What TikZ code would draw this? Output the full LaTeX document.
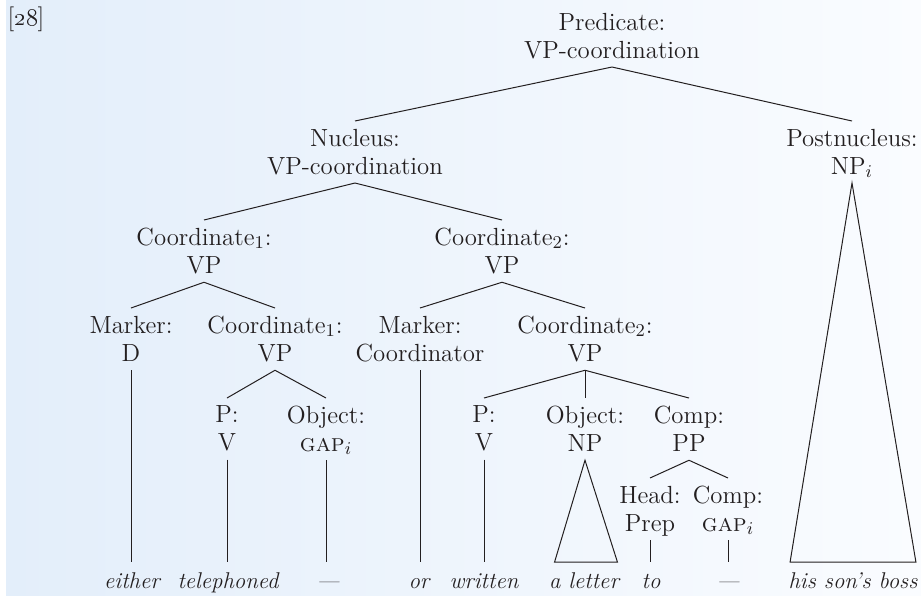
\documentclass[tikz,border=0pt]{standalone}
\usetikzlibrary{calc}
\definecolor{bgblue}{RGB}{227,238,250}
\definecolor{bgwhite}{RGB}{250,252,255}
\definecolor{ink}{RGB}{35,31,32}

\begin{document}
\begin{tikzpicture}[
    x=0.5pt, y=-0.5pt,
    lab/.style={anchor=north, yshift=9.8pt, inner sep=0pt, align=center,
                font=\fontsize{12.4}{14}\selectfont, text=ink,
                execute at begin node=\strut, execute at end node=\strut},
    word/.style={lab, font=\fontsize{11.4}{14}\selectfont\itshape},
    line width=0.5pt, draw=ink
  ]
  \useasboundingbox (0,0) rectangle (921,595);
  \fill[left color=bgblue, right color=bgwhite] (6,0) rectangle (921,595);

  \node[anchor=base west, inner sep=0pt, font=\fontsize{12.4}{14}\selectfont, text=ink]
    (num) at (7,25) {[\oldstylenums{28}]};

  % labels, placed at the baseline of their first line
  \node[lab] (pred) at (612,32)  {Predicate:\\VP-coordination};
  \node[lab] (nuc)  at (355,148) {Nucleus:\\VP-coordination};
  \node[lab] (post) at (852,148) {Postnucleus:\\NP$_i$};
  \node[lab] (c1)   at (204,247) {Coordinate$_1$:\\VP};
  \node[lab] (c2)   at (502,247) {Coordinate$_2$:\\VP};
  \node[lab] (mk1)  at (131,335) {Marker:\\D};
  \node[lab] (c1i)  at (275,335) {Coordinate$_1$:\\VP};
  \node[lab] (mk2)  at (420,335) {Marker:\\Coordinator};
  \node[lab] (c2i)  at (585,335) {Coordinate$_2$:\\VP};
  \node[lab] (p1)   at (227,425) {P:\\V};
  \node[lab] (ob1)  at (326,425) {Object:\\\textsc{gap}$_i$};
  \node[lab] (p2)   at (484,425) {P:\\V};
  \node[lab] (ob2)  at (585,425) {Object:\\NP};
  \node[lab] (cp)   at (689,425) {Comp:\\PP};
  \node[lab] (hd)   at (650,505) {Head:\\Prep};
  \node[lab] (cp2)  at (728,505) {Comp:\\\textsc{gap}$_i$};

  % the words
  \node[word] (w1) at (132,588) {either};
  \node[word] (w2) at (228,588) {telephoned};
  \node[word] (w3) at (328,588) {---};
  \node[word] (w4) at (419,588) {or};
  \node[word] (w5) at (484,588) {written};
  \node[word] (w6) at (584,588) {a letter};
  \node[word] (w7) at (651,588) {to};
  \node[word] (w8) at (728,588) {---};
  \node[word] (w9) at (853,588) {his son's boss};

  % branches
  \foreach \a/\b in {pred/nuc, pred/post, nuc/c1, nuc/c2, c1/mk1, c1/c1i,
                     c2/mk2, c2/c2i, c1i/p1, c1i/ob1, c2i/p2, c2i/ob2,
                     c2i/cp, cp/hd, cp/cp2}
    \draw (\a.south) -- ([yshift=3.7pt]\b.north);

  % down to the words
  \foreach \a/\b in {mk1/w1, p1/w2, ob1/w3, mk2/w4, p2/w5, hd/w7, cp2/w8}
    \draw (\a.south) -- ([yshift=3.2pt]\a.south |- \b.north);

  % triangles
  \draw (ob2.south) -- ([xshift=3pt,yshift=3.2pt]w6.north west)
    -- ([xshift=-1pt,yshift=3.2pt]w6.north east) -- cycle;
  \draw (post.south) -- ([xshift=1pt,yshift=3.2pt]w9.north west)
    -- ([xshift=-1pt,yshift=3.2pt]w9.north east) -- cycle;
\end{tikzpicture}
\end{document}
